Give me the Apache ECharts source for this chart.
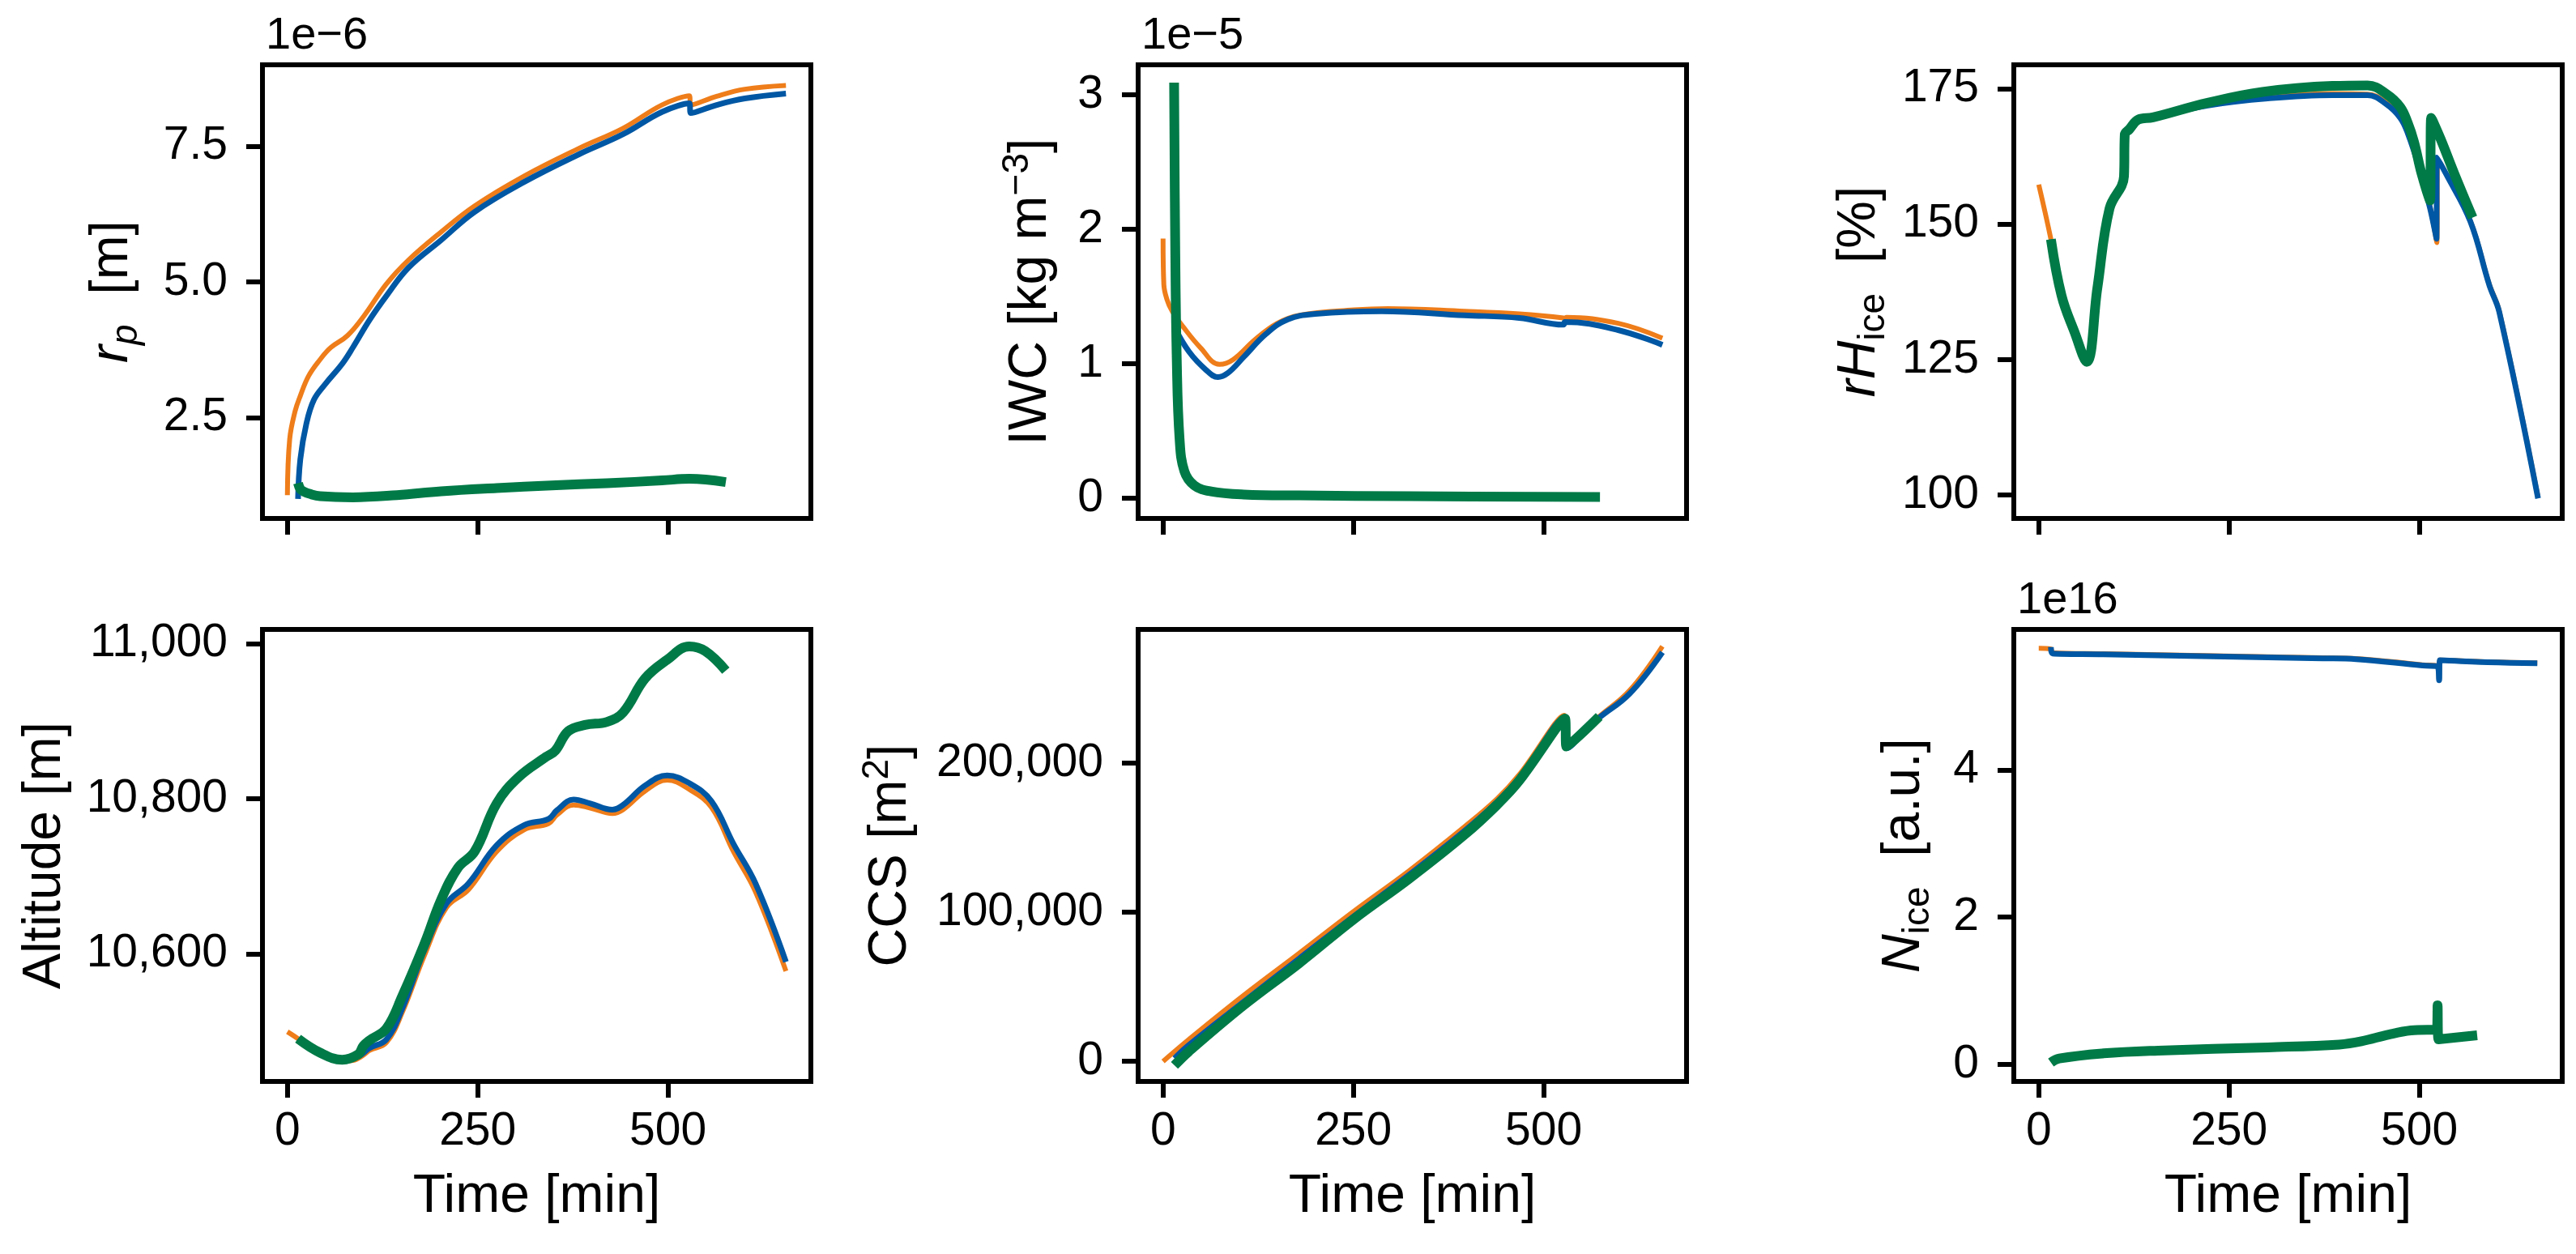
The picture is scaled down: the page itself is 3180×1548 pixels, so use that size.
<!DOCTYPE html>
<html>
<head>
<meta charset="utf-8">
<script src="https://cdn.jsdelivr.net/npm/echarts@6/dist/echarts.min.js"></script>
<style>
  html, body { margin: 0; padding: 0; background: #fff; }
  #chart { width: 3180px; height: 1548px; }
</style>
</head>
<body>
<div id="chart"></div>
<script>
// time ticks shared by every panel
var timeTicks = [0, 250, 500];

// particle radius, units of 1e-6 m  [time, value]
var rpOrange = [[0,1.07],[3,2.10],[10,2.61],[17,2.90],[28,3.27],[43,3.57],[57,3.79],[79,4.01],[101,4.38],[130,4.96],[159,5.40],[202,5.92],[246,6.40],[311,6.95],[383,7.46],[441,7.83],[492,8.26],[528,8.43],[530,8.26],[564,8.42],[601,8.55],[655,8.62]];
var rpBlue = [[14,1.0],[17,1.73],[25,2.39],[35,2.83],[50,3.12],[72,3.49],[86,3.79],[108,4.30],[130,4.74],[159,5.26],[202,5.77],[246,6.29],[311,6.84],[383,7.35],[441,7.72],[492,8.13],[528,8.29],[530,8.11],[564,8.26],[601,8.38],[655,8.47]];
var rpGreen = [[14,1.29],[17,1.18],[21,1.14],[30,1.09],[43,1.05],[86,1.03],[144,1.07],[202,1.14],[275,1.20],[347,1.25],[420,1.29],[492,1.34],[528,1.37],[576,1.31]];
var rpTicks = [2.5, 5.0, 7.5];

// ice water content, units of 1e-5 kg m-3
var iwcOrange = [[0,1.93],[1,1.59],[5,1.48],[12,1.39],[27,1.27],[49,1.12],[74,0.995],[92,1.03],[121,1.18],[150,1.30],[179,1.36],[251,1.40],[295,1.41],[396,1.39],[468,1.37],[526,1.34],[528,1.33],[530,1.345],[598,1.30],[656,1.19]];
var iwcBlue = [[15,1.27],[34,1.09],[56,0.956],[72,0.90],[85,0.93],[106,1.05],[135,1.22],[164,1.33],[200,1.37],[287,1.39],[396,1.36],[468,1.34],[526,1.29],[528,1.31],[598,1.25],[656,1.14]];
var iwcGreen = [[14.5,3.09],[15.9,1.92],[18,1.03],[21.7,0.44],[28,0.20],[41,0.095],[63,0.05],[106,0.027],[179,0.02],[324,0.014],[574,0.008]];
var iwcTicks = [0, 1, 2, 3];

// relative humidity over ice, %
var rhOrange = [[0,157.3],[16,147.2],[30,136.8],[47,130.1],[63,124.6],[77,138.2],[93,152.9],[112,158.8],[113,166.5],[119,167.5],[131,169.3],[150,169.7],[222,172.0],[301,173.4],[386,174.1],[432,174.0],[457,172.4],[475,169.9],[485,167.0],[500,160.6],[514,153.3],[523,146.6],[524,162.0],[535,159.4],[567,150.6],[592,138.9],[605,134.0],[656,99.6]];
var rhBlue = [[16,147.2],[30,136.8],[47,130.1],[63,124.6],[77,138.2],[93,152.9],[112,158.8],[113,166.5],[119,167.5],[131,169.3],[150,169.7],[222,171.9],[301,173.2],[386,173.8],[432,173.8],[457,172.1],[475,169.6],[485,166.7],[500,160.3],[514,153.0],[522.6,147.3],[523,162.3],[535,159.3],[567,150.5],[592,138.7],[605,133.8],[656,99.4]];
var rhGreen = [[16,147.2],[30,136.8],[47,130.1],[63,124.6],[77,138.2],[93,152.9],[112,158.8],[113,166.5],[119,167.5],[131,169.3],[150,169.7],[222,172.4],[294,174.4],[386,175.5],[432,175.6],[457,174.0],[475,171.6],[485,168.6],[493,165.2],[503,159.3],[514,154.4],[515.6,169.6],[528,165.7],[546,159.3],[570,151.2]];
var rhTicks = [100, 125, 150, 175];

// altitude, m
var altOrange = [[0,10500],[14,10491],[43,10471],[72,10462],[86,10463],[100,10470],[108,10476],[130,10486],[151,10525],[180,10598],[209,10660],[238,10683],[275,10732],[311,10760],[343,10768],[354,10779],[376,10792],[398,10788],[427,10781],[441,10786],[470,10810],[499,10824],[528,10812],[557,10789],[586,10732],[615,10680],[655,10578]];
var altBlue = [[14,10491],[43,10472],[72,10464],[93,10468],[108,10479],[130,10490],[151,10530],[180,10605],[209,10665],[238,10691],[275,10740],[311,10766],[343,10774],[354,10785],[376,10799],[398,10794],[427,10786],[441,10792],[470,10817],[499,10830],[528,10820],[557,10797],[586,10742],[615,10691],[655,10590]];
var altGreen = [[14,10491],[43,10473],[72,10464],[93,10471],[100,10482],[108,10489],[130,10504],[151,10546],[180,10613],[202,10670],[224,10711],[246,10732],[275,10794],[304,10828],[340,10854],[352,10862],[369,10887],[391,10895],[420,10899],[441,10911],[470,10955],[499,10979],[528,10996],[549,10990],[576,10965]];
var altTicks = [10600, 10800, 11000];

// contrail cross section, m2
var ccsOrange = [[0,0],[34,14785],[106,44355],[179,72580],[251,100806],[323,127688],[396,157258],[439,176075],[468,192204],[527,231989],[531,211021],[570,229838],[613,248656],[656,278226]];
var ccsBlue = [[15,2000],[34,11000],[106,40000],[179,69000],[251,97500],[323,125000],[396,154500],[439,174000],[468,190000],[527,230500],[531,210000],[570,229000],[613,246500],[656,274194]];
var ccsGreen = [[15,-2700],[34,6720],[106,37634],[179,65860],[251,95430],[323,122312],[396,151882],[439,172043],[468,188172],[528,229839],[530,211022],[573,231183]];
var ccsTicks = [0, 100000, 200000];

// ice crystal number, units of 1e16
var niceOrange = [[0,5.649],[16,5.638],[18,5.59],[85,5.575],[229,5.548],[373,5.52],[417,5.51],[504,5.425],[524,5.41],[526,5.23],[527,5.49],[590,5.465],[655,5.452]];
var niceBlue = [[16,5.665],[18,5.578],[85,5.567],[229,5.540],[373,5.513],[417,5.502],[504,5.415],[524,5.404],[526,5.214],[527,5.486],[590,5.459],[655,5.447]];
var niceGreen = [[16,0.027],[27,0.082],[85,0.152],[157,0.19],[301,0.234],[395,0.272],[424,0.316],[460,0.408],[489,0.463],[523,0.479],[524,0.805],[525,0.343],[576,0.397]];
var niceTicks = [0, 2, 4];

var C_ORANGE = '#EE7D1A', C_BLUE = '#0057A3', C_GREEN = '#007A47';
var FONT = 'Liberation Sans, Arial, sans-serif';
var thousands = function (v) { return v.toLocaleString('en-US'); };

var panels = [
  { left: 324, top: 80, h: 560, ymin: 0.64, ymax: 9.0, ticks: rpTicks, fmt: function (v) { return v.toFixed(1); },
    name: '{it|r}{subi|p}  [m]', gap: 145, series: [rpOrange, rpBlue, rpGreen], bottom: false },
  { left: 1405, top: 80, h: 560, ymin: -0.151, ymax: 3.223, ticks: iwcTicks, fmt: String,
    name: 'IWC [kg m{sup|\u22123}]', gap: 92, series: [iwcOrange, iwcBlue, iwcGreen], bottom: false },
  { left: 2486, top: 80, h: 560, ymin: 95.7, ymax: 179.4, ticks: rhTicks, fmt: String,
    name: '{it|rH}{sub|ice}  [%]', gap: 150, series: [rhOrange, rhBlue, rhGreen], bottom: false },
  { left: 324, top: 777, h: 558, ymin: 10436, ymax: 11018, ticks: altTicks, fmt: thousands,
    name: 'Altitude [m]', gap: 228, series: [altOrange, altBlue, altGreen], bottom: true },
  { left: 1405, top: 777, h: 558, ymin: -13441, ymax: 289516, ticks: ccsTicks, fmt: thousands,
    name: 'CCS [m{sup|2}]', gap: 265, series: [ccsOrange, ccsBlue, ccsGreen], bottom: true },
  { left: 2486, top: 777, h: 558, ymin: -0.229, ymax: 5.905, ticks: niceTicks, fmt: String,
    name: '{it|N}{sub|ice}  [a.u.]', gap: 95, series: [niceOrange, niceBlue, niceGreen], bottom: true }
];

var nameRich = {
  it: { fontStyle: 'italic', fontSize: 66, lineHeight: 80, fontFamily: FONT, color: '#000' },
  sub: { fontSize: 46, lineHeight: 46, verticalAlign: 'bottom', fontFamily: FONT, color: '#000' },
  subi: { fontStyle: 'italic', fontSize: 46, lineHeight: 46, verticalAlign: 'bottom', fontFamily: FONT, color: '#000' },
  sup: { fontSize: 46, lineHeight: 46, verticalAlign: 'top', fontFamily: FONT, color: '#000' }
};

var chart = echarts.init(document.getElementById('chart'));
var grids = [], xAxes = [], yAxes = [], series = [];
var colors = [C_ORANGE, C_BLUE, C_GREEN];
var widths = [6, 7, 12];

panels.forEach(function (p, i) {
  grids.push({ left: p.left, top: p.top, width: 677, height: p.h, show: true,
    borderColor: '#000', borderWidth: 6, backgroundColor: 'transparent' });
  xAxes.push({
    type: 'value', gridIndex: i, min: -32.75, max: 687.75,
    axisLine: { show: false, onZero: false }, splitLine: { show: false },
    axisTick: { show: true, customValues: timeTicks, length: 20, lineStyle: { color: '#000', width: 6 } },
    axisLabel: { show: p.bottom, customValues: timeTicks, fontSize: 57, fontFamily: FONT, color: '#000', margin: 34 },
    name: p.bottom ? 'Time [min]' : '', nameLocation: 'middle', nameGap: 110,
    nameTextStyle: { fontSize: 66, fontFamily: FONT, color: '#000' }
  });
  yAxes.push({
    type: 'value', gridIndex: i, min: p.ymin, max: p.ymax,
    axisLine: { show: false, onZero: false }, splitLine: { show: false },
    axisTick: { show: true, customValues: p.ticks, length: 20, lineStyle: { color: '#000', width: 6 } },
    axisLabel: { customValues: p.ticks, fontSize: 57, fontFamily: FONT, color: '#000', margin: 43, formatter: p.fmt },
    name: p.name, nameLocation: 'middle', nameGap: p.gap, nameRotate: 90,
    nameTextStyle: { fontSize: 66, lineHeight: 80, fontFamily: FONT, color: '#000', rich: nameRich }
  });
  p.series.forEach(function (d, k) {
    series.push({
      type: 'line', xAxisIndex: i, yAxisIndex: i, data: d, showSymbol: false,
      smooth: 0.4, z: 2 + k,
      lineStyle: { color: colors[k], width: widths[k], cap: 'butt', join: 'round' }
    });
  });
});

var offsetFont = '56px ' + FONT;
chart.setOption({
  animation: false,
  backgroundColor: '#fff',
  grid: grids,
  xAxis: xAxes,
  yAxis: yAxes,
  series: series,
  graphic: [
    { type: 'text', style: { x: 328, y: 45, text: '1e\u22126', font: offsetFont, fill: '#000', verticalAlign: 'middle' } },
    { type: 'text', style: { x: 1409, y: 45, text: '1e\u22125', font: offsetFont, fill: '#000', verticalAlign: 'middle' } },
    { type: 'text', style: { x: 2490, y: 742, text: '1e16', font: offsetFont, fill: '#000', verticalAlign: 'middle' } }
  ]
});
window.onresize = chart.resize;
</script>
</body>
</html>
